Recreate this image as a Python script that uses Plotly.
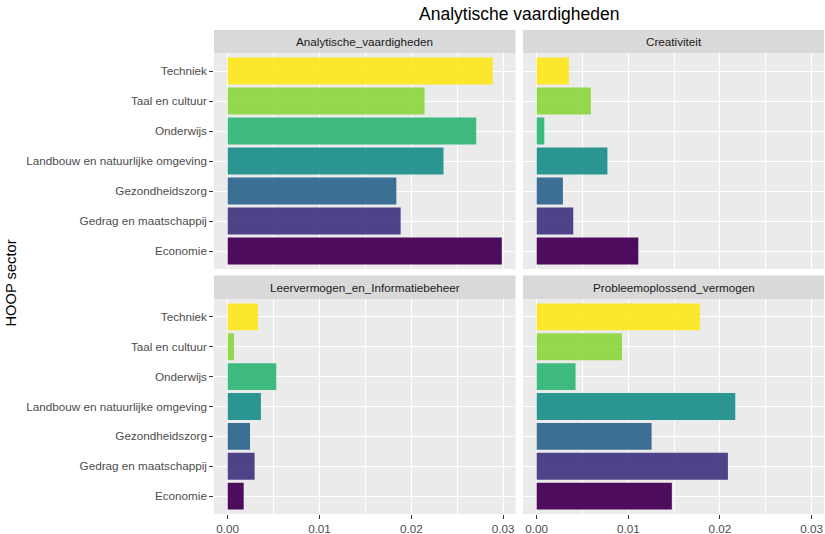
import plotly.graph_objects as go

# ---- data ----
sectors = ["Economie", "Gedrag en maatschappij", "Gezondheidszorg",
           "Landbouw en natuurlijke omgeving", "Onderwijs", "Taal en cultuur", "Techniek"]
facets = ["Analytische_vaardigheden", "Creativiteit",
          "Leervermogen_en_Informatiebeheer", "Probleemoplossend_vermogen"]
analytisch = [0.02986, 0.01884, 0.01837, 0.02351, 0.02707, 0.02145, 0.02888]
creativiteit = [0.01109, 0.00399, 0.00286, 0.00772, 0.00083, 0.00591, 0.00351]
leervermogen = [0.00174, 0.00293, 0.00243, 0.00362, 0.00529, 0.00069, 0.00330]
probleem = [0.01475, 0.02087, 0.01254, 0.02167, 0.00424, 0.00931, 0.01783]
x_ticks = [0.0, 0.01, 0.02, 0.03]
x_tick_labels = ["0.00", "0.01", "0.02", "0.03"]
title = "Analytische vaardigheden"
y_title = "HOOP sector"

colors = ["#440154", "#443A83", "#31688E", "#21908C", "#35B779", "#8FD744", "#FDE725"]
values = [analytisch, creativiteit, leervermogen, probleem]

W, H = 825, 534
FONT = "Liberation Sans, Arial, sans-serif"

def px_x(p):
    return p / W

def px_y(p):
    return (H - p) / H

xdomains = [[px_x(214), px_x(515.5)], [px_x(523), px_x(824)]]
ydomains = [[px_y(269), px_y(53)], [px_y(514), px_y(299)]]
strip_y = [[px_y(53), px_y(30)], [px_y(299), px_y(275.5)]]

xmax = max(max(v) for v in values)
xrange = [-0.05 * xmax, 1.05 * xmax]

fig = go.Figure()
layout = dict(
    width=W, height=H,
    margin=dict(l=0, r=0, t=0, b=0),
    paper_bgcolor="white",
    plot_bgcolor="#EBEBEB",
    showlegend=False,
    font=dict(family=FONT, color="#4D4D4D", size=11.7),
    bargap=0.1,
)
shapes = []
annotations = []

for i, (name, vals) in enumerate(zip(facets, values)):
    row, col = i // 2, i % 2
    n = i + 1
    xa = "x" if n == 1 else f"x{n}"
    ya = "y" if n == 1 else f"y{n}"
    fig.add_trace(go.Bar(
        x=vals, y=sectors, orientation="h",
        marker=dict(color=colors, opacity=0.95, line=dict(width=0)),
        width=0.9,
        xaxis=xa, yaxis=ya, hoverinfo="x+y",
    ))
    xkey = "xaxis" if n == 1 else f"xaxis{n}"
    ykey = "yaxis" if n == 1 else f"yaxis{n}"
    layout[xkey] = dict(
        domain=xdomains[col], anchor=ya, range=xrange,
        tickvals=x_ticks, ticktext=x_tick_labels,
        showticklabels=(row == 1),
        ticks="outside" if row == 1 else "", ticklen=3.7, tickwidth=1, tickcolor="#333333",
        showgrid=True, gridcolor="white", gridwidth=1.07, zeroline=False,
        minor=dict(dtick=0.005, tick0=0, showgrid=True, gridcolor="white", gridwidth=0.53),
        showline=False, fixedrange=True,
        tickfont=dict(size=11.7, color="#4D4D4D", family=FONT),
    )
    layout[ykey] = dict(
        domain=ydomains[row], anchor=xa, type="category",
        categoryorder="array", categoryarray=sectors, range=[-0.6, 6.6],
        showticklabels=(col == 0),
        ticks="outside" if col == 0 else "", ticklen=3.7, tickwidth=1, tickcolor="#333333",
        showgrid=True, gridcolor="white", gridwidth=1.07, zeroline=False,
        showline=False, fixedrange=True,
        tickfont=dict(size=11.7, color="#4D4D4D", family=FONT),
    )
    shapes.append(dict(
        type="rect", xref="paper", yref="paper",
        x0=xdomains[col][0], x1=xdomains[col][1],
        y0=strip_y[row][0], y1=strip_y[row][1],
        fillcolor="#D9D9D9", line=dict(width=0), layer="below",
    ))
    annotations.append(dict(
        text=name, xref="paper", yref="paper",
        x=(xdomains[col][0] + xdomains[col][1]) / 2,
        y=(strip_y[row][0] + strip_y[row][1]) / 2,
        xanchor="center", yanchor="middle", showarrow=False,
        font=dict(size=11.7, color="#1A1A1A", family=FONT),
    ))

annotations.append(dict(
    text=title, xref="paper", yref="paper",
    x=(xdomains[0][0] + xdomains[1][1]) / 2, y=px_y(14),
    xanchor="center", yanchor="middle", showarrow=False,
    font=dict(size=17.5, color="black", family=FONT),
))
annotations.append(dict(
    text=y_title, xref="paper", yref="paper",
    x=px_x(10), y=px_y(283.5), textangle=-90,
    xanchor="center", yanchor="middle", showarrow=False,
    font=dict(size=14.7, color="black", family=FONT),
))

layout["shapes"] = shapes
layout["annotations"] = annotations
fig.update_layout(**layout)
fig.write_html("out.html", config={"displayModeBar": False})

# remove the browser's default page margin so the figure sits at the top-left corner
with open("out.html", "r", encoding="utf-8") as f:
    html = f.read()
html = html.replace("<head>", "<head><style>html,body{margin:0;padding:0;overflow:hidden;}</style>", 1)
with open("out.html", "w", encoding="utf-8") as f:
    f.write(html)
